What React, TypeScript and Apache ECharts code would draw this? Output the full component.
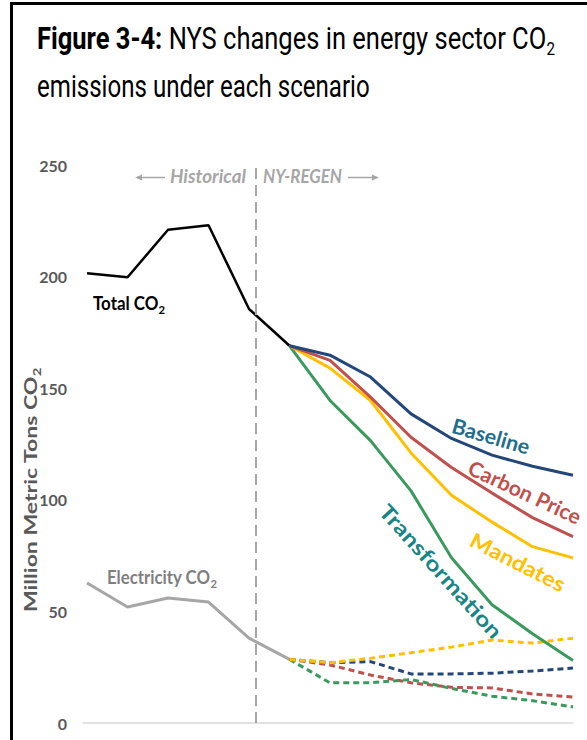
import React, { useEffect, useRef } from "react";
import * as echarts from "echarts";

// ---- data ----
const histYears = [1990, 1995, 2000, 2005, 2010, 2015];
const totalCO2 = [201.5, 199.7, 221, 223, 185.5, 169];
const electricityCO2 = [62.7, 52, 56, 54.2, 38, 28.5];

const scenarioYears = [2015, 2020, 2025, 2030, 2035, 2040, 2045, 2050];
const baselineTotal = [169, 164.8, 155, 138.5, 127.5, 120, 115, 111];
const carbonPriceTotal = [169, 162.5, 146, 128, 114.5, 103, 92, 83.5];
const mandatesTotal = [169, 159, 144.5, 121, 102, 90, 79, 74];
const transformationTotal = [169, 144.5, 126.5, 104, 74, 53, 40, 28];

const baselineElec = [28.5, 27, 27.5, 22, 22, 22.3, 23.3, 24.6];
const carbonPriceElec = [28.5, 26, 21.5, 18, 16, 15.7, 13, 11.6];
const mandatesElec = [28.5, 27, 29, 31.5, 34, 37.2, 35.8, 38];
const transformationElec = [28.5, 18, 18, 19.5, 15.5, 12, 10, 7.2];

const yTicks = [0, 50, 100, 150, 200, 250];
const transitionYear = 2010.8;

const C_BASE = "#24477a";
const C_CARBON = "#c0504d";
const C_MAND = "#ffc000";
const C_TRANS = "#3a9a5e";

let ctx: CanvasRenderingContext2D | null = null;
function measure(text: string, font: string): number {
  if (!ctx) ctx = document.createElement("canvas").getContext("2d");
  ctx!.font = font;
  return ctx!.measureText(text).width;
}

function pairs(xs: number[], ys: number[]) {
  return xs.map((x, i) => [x, ys[i]]);
}

export default function App() {
  const ref = useRef<HTMLDivElement>(null);
  useEffect(() => {
    if (!ref.current) return;
    const chart = echarts.init(ref.current, undefined, { renderer: "svg" });

    const TF = "Roboto";
    const w1 =
      measure("Figure 3-4:", `bold 32px ${TF}`) +
      measure(" NYS changes in energy sector CO", `32px ${TF}`) +
      measure("2", `19px ${TF}`);
    const s1 = 518 / w1;
    const w2 = measure("emissions under each scenario", `32px ${TF}`);
    const s2 = 333 / w2;

    const LF = "Lato";
    const fitCO2 = (main: string, fs: number, sub: number, target: number, weight = "normal") =>
      target / (measure(main, `${weight} ${fs}px ${LF}`) + measure("2", `${weight} ${sub}px ${LF}`));

    const sTotal = fitCO2("Total CO", 18, 12, 72, "bold");
    const sElec = fitCO2("Electricity CO", 18, 12, 110, "bold");
    const sHist = 76 / measure("Historical", `italic bold 18px ${LF}`);
    const sReg = 79 / measure("NY-REGEN", `italic bold 18px ${LF}`);
    const sAxis = 245 / (measure("Million Metric Tons CO", `bold 17px ${LF}`) + measure("2", `bold 11px ${LF}`));

    const lab = (t: string, fs: number, target: number) => target / measure(t, `bold ${fs}px ${LF}`);

    const co2Rich = (fs: number, sub: number, color: string, weight = "normal") => ({
      m: { fontSize: fs, fontFamily: LF, fill: color, lineHeight: 24, fontWeight: weight },
      s: { fontSize: sub, fontFamily: LF, fill: color, lineHeight: 12, verticalAlign: "bottom", fontWeight: weight },
    });

    const option: any = {
      animation: false,
      backgroundColor: "#ffffff",
      grid: { left: 83, right: 14, top: 165, bottom: 17, containLabel: false },
      xAxis: {
        type: "value",
        min: 1989.5,
        max: 2050,
        axisLine: { show: true, lineStyle: { color: "#d9d9d9", width: 1.5 } },
        axisTick: { show: false },
        axisLabel: { show: false },
        splitLine: { show: false },
      },
      yAxis: {
        type: "value",
        min: yTicks[0],
        max: yTicks[yTicks.length - 1],
        interval: 50,
        axisLine: { show: false },
        axisTick: { show: false },
        splitLine: { show: false },
        axisLabel: {
          color: "#595959",
          fontFamily: LF,
          fontWeight: "bold",
          fontSize: 16,
          margin: 16,
        },
      },
      series: [
        {
          name: "Total CO2",
          type: "line",
          data: pairs(histYears, totalCO2),
          symbol: "none",
          lineStyle: { color: "#000000", width: 2.5 },
          markLine: {
            silent: true,
            symbol: "none",
            label: { show: false },
            lineStyle: { color: "#a6a6a6", width: 2, type: [11, 6] },
            data: [{ xAxis: transitionYear }],
          },
        },
        {
          name: "Electricity CO2",
          type: "line",
          data: pairs(histYears, electricityCO2),
          symbol: "none",
          lineStyle: { color: "#a6a6a6", width: 3 },
        },
        {
          name: "Baseline electricity",
          type: "line",
          data: pairs(scenarioYears, baselineElec),
          symbol: "none",
          lineStyle: { color: C_BASE, width: 3, type: [6, 4] },
        },
        {
          name: "Carbon Price electricity",
          type: "line",
          data: pairs(scenarioYears, carbonPriceElec),
          symbol: "none",
          lineStyle: { color: C_CARBON, width: 3, type: [6, 4] },
        },
        {
          name: "Transformation electricity",
          type: "line",
          data: pairs(scenarioYears, transformationElec),
          symbol: "none",
          lineStyle: { color: C_TRANS, width: 3, type: [6, 4] },
        },
        {
          name: "Mandates electricity",
          type: "line",
          data: pairs(scenarioYears, mandatesElec),
          symbol: "none",
          lineStyle: { color: C_MAND, width: 3, type: [6, 4] },
        },
        {
          name: "Transformation",
          type: "line",
          data: pairs(scenarioYears, transformationTotal),
          symbol: "none",
          lineStyle: { color: C_TRANS, width: 3 },
        },
        {
          name: "Mandates",
          type: "line",
          data: pairs(scenarioYears, mandatesTotal),
          symbol: "none",
          lineStyle: { color: C_MAND, width: 3 },
        },
        {
          name: "Carbon Price",
          type: "line",
          data: pairs(scenarioYears, carbonPriceTotal),
          symbol: "none",
          lineStyle: { color: C_CARBON, width: 3 },
        },
        {
          name: "Baseline",
          type: "line",
          data: pairs(scenarioYears, baselineTotal),
          symbol: "none",
          lineStyle: { color: C_BASE, width: 3 },
        },
      ],
      graphic: [
        // frame
        { type: "rect", shape: { x: 10, y: 2, width: 600, height: 3 }, style: { fill: "#000" }, silent: true },
        { type: "rect", shape: { x: 10, y: 2, width: 3, height: 760 }, style: { fill: "#000" }, silent: true },
        // title
        {
          type: "text",
          x: 37,
          y: 38,
          scaleX: s1,
          style: {
            text: "{b|Figure 3-4:}{r| NYS changes in energy sector CO}{s|2}",
            align: "left",
            verticalAlign: "middle",
            rich: {
              b: { fontSize: 32, fontFamily: TF, fontWeight: "bold", lineHeight: 40, fill: "#000" },
              r: { fontSize: 32, fontFamily: TF, lineHeight: 40, fill: "#000" },
              s: { fontSize: 19, fontFamily: TF, lineHeight: 11, verticalAlign: "bottom", fill: "#000" },
            },
          },
        },
        {
          type: "text",
          x: 37,
          y: 86,
          scaleX: s2,
          style: {
            text: "emissions under each scenario",
            fontSize: 32,
            fontFamily: TF,
            fill: "#000",
            align: "left",
            verticalAlign: "middle",
          },
        },
        // y-axis name
        {
          type: "text",
          x: 30,
          y: 490,
          rotation: Math.PI / 2,
          scaleX: sAxis,
          style: {
            text: "{m|Million Metric Tons CO}{s|2}",
            align: "center",
            verticalAlign: "middle",
            rich: co2Rich(17, 11, "#595959", "bold"),
          },
        },
        // Historical / NY-REGEN
        {
          type: "text",
          x: 170,
          y: 176,
          scaleX: sHist,
          style: { text: "Historical", fontSize: 18, fontStyle: "italic", fontWeight: "bold", fontFamily: LF, fill: "#a6a6a6", align: "left", verticalAlign: "middle" },
        },
        {
          type: "text",
          x: 263,
          y: 176,
          scaleX: sReg,
          style: { text: "NY-REGEN", fontSize: 18, fontStyle: "italic", fontWeight: "bold", fontFamily: LF, fill: "#a6a6a6", align: "left", verticalAlign: "middle" },
        },
        { type: "line", shape: { x1: 140, y1: 177.5, x2: 165, y2: 177.5 }, style: { stroke: "#a6a6a6", lineWidth: 1.5 } },
        { type: "polygon", shape: { points: [[135, 177.5], [142, 174.5], [142, 180.5]] }, style: { fill: "#a6a6a6" } },
        { type: "line", shape: { x1: 348, y1: 177.5, x2: 373, y2: 177.5 }, style: { stroke: "#a6a6a6", lineWidth: 1.5 } },
        { type: "polygon", shape: { points: [[379, 177.5], [372, 174.5], [372, 180.5]] }, style: { fill: "#a6a6a6" } },
        // Total CO2 / Electricity CO2
        {
          type: "text",
          x: 93,
          y: 303,
          scaleX: sTotal,
          style: { text: "{m|Total CO}{s|2}", align: "left", verticalAlign: "middle", rich: co2Rich(18, 12, "#000000", "bold") },
        },
        {
          type: "text",
          x: 107,
          y: 577,
          scaleX: sElec,
          style: { text: "{m|Electricity CO}{s|2}", align: "left", verticalAlign: "middle", rich: co2Rich(18, 12, "#7f7f7f", "bold") },
        },
        // scenario labels
        {
          type: "text",
          x: 491,
          y: 436,
          rotation: (-16 * Math.PI) / 180,
          scaleX: lab("Baseline", 21, 80),
          style: { text: "Baseline", fontSize: 21, fontWeight: "bold", fontFamily: LF, fill: "#1e6e8e", align: "center", verticalAlign: "middle" },
        },
        {
          type: "text",
          x: 525,
          y: 492,
          rotation: (-25 * Math.PI) / 180,
          scaleX: lab("Carbon Price", 21, 122),
          style: { text: "Carbon Price", fontSize: 21, fontWeight: "bold", fontFamily: LF, fill: C_CARBON, align: "center", verticalAlign: "middle" },
        },
        {
          type: "text",
          x: 518,
          y: 562,
          rotation: (-27 * Math.PI) / 180,
          scaleX: lab("Mandates", 21, 104),
          style: { text: "Mandates", fontSize: 21, fontWeight: "bold", fontFamily: LF, fill: C_MAND, align: "center", verticalAlign: "middle" },
        },
        {
          type: "text",
          x: 441,
          y: 571,
          rotation: (-48 * Math.PI) / 180,
          scaleX: lab("Transformation", 21, 172),
          style: { text: "Transformation", fontSize: 21, fontWeight: "bold", fontFamily: LF, fill: "#178585", align: "center", verticalAlign: "middle" },
        },
      ],
    };

    chart.setOption(option);
    return () => chart.dispose();
  }, []);

  return (
    <div
      ref={ref}
      style={{ position: "absolute", left: 0, top: 0, width: 587, height: 740, background: "#fff" }}
    />
  );
}
